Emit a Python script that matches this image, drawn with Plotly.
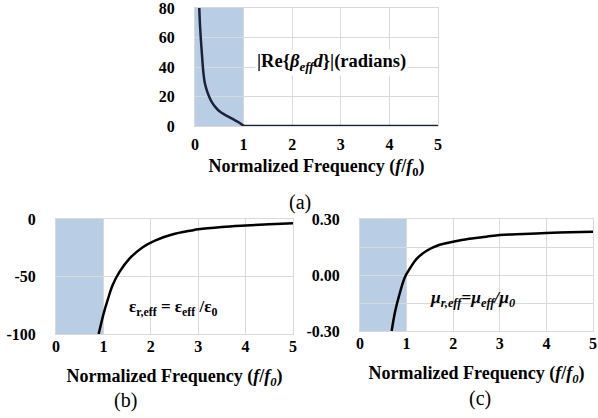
import plotly.graph_objects as go

# ---------------- data ----------------
# (a) |Re{beta_eff d}| (radians)
freq_a = [0.088, 0.10, 0.12, 0.136, 0.155, 0.17, 0.20, 0.24, 0.29, 0.34, 0.42, 0.51,
          0.61, 0.71, 0.80, 0.88, 0.95, 1.00, 1.5, 2.0, 3.0, 4.0, 5.0]
beta_a = [80, 70, 59, 51.7, 43, 37, 29.5, 24.5, 20, 16.5, 12.8, 9.8,
          7.7, 5.9, 4.3, 2.9, 1.4, 0.2, 0, 0, 0, 0, 0]

# (b) relative effective permittivity
freq_b = [0.90, 1.0, 1.1, 1.2, 1.34, 1.55, 1.83, 2.1, 2.45, 2.86, 3.0, 3.5, 4.0, 4.5, 5.0]
eps_b = [-100, -83, -69, -57, -46, -34.5, -24.5, -18.5, -13.5, -10, -9, -7, -5.7, -4.6, -3.7]

# (c) relative effective permeability
freq_c = [0.68, 0.75, 0.84, 0.96, 1.07, 1.21, 1.43, 1.71, 2.0, 2.29, 2.71, 3.0, 3.5, 4.0, 4.5, 5.0]
mu_c = [-0.30, -0.20, -0.11, -0.013, 0.035, 0.085, 0.13, 0.162, 0.178, 0.192, 0.205, 0.214,
        0.220, 0.225, 0.229, 0.232]

shaded_band = [0, 1]          # shaded frequency band (f/f0)
x_ticks = [0, 1, 2, 3, 4, 5]
y_ticks_a = [0, 20, 40, 60, 80]
y_ticks_b = [-100, -50, 0]
y_ticktext_b = ["-100", "-50", "0"]
y_ticks_c = [-0.30, -0.15, 0.0, 0.15, 0.30]
y_ticktext_c = ["-0.30", "", "0.00", "", "0.30"]

# ---------------- styles ----------------
FONT = "Liberation Serif, Times New Roman, serif"
GRID = "#d9d9d9"
SHADE = "#b9cde5"
tickfont = dict(family=FONT, size=16, color="black", weight="bold")
titlefont = dict(family=FONT, size=18, color="black", weight="bold")
xtitle_a = "<b>Normalized Frequency (<i>f</i>/<i>f</i><sub>0</sub>)</b>"
xtitle_bc = "<b>Normalized Frequency (<i>f</i>/<i>f<sub>0</sub></i>)</b>"

fig = go.Figure()
fig.add_trace(go.Scatter(x=freq_a, y=beta_a, mode="lines", xaxis="x", yaxis="y",
                         line=dict(color="#1a2238", width=2.5, shape="spline", smoothing=0.6),
                         showlegend=False))
fig.add_trace(go.Scatter(x=freq_b, y=eps_b, mode="lines", xaxis="x2", yaxis="y2",
                         line=dict(color="black", width=2.5, shape="spline"), showlegend=False))
fig.add_trace(go.Scatter(x=freq_c, y=mu_c, mode="lines", xaxis="x3", yaxis="y3",
                         line=dict(color="black", width=2.5, shape="spline"), showlegend=False))


def xax(domain, anchor, title, standoff, label_standoff):
    return dict(domain=domain, anchor=anchor, range=[0, 5], tickvals=x_ticks,
                showgrid=True, gridcolor=GRID, gridwidth=1, zeroline=False,
                showline=True, linecolor=GRID, mirror=True, ticks="",
                tickfont=tickfont, ticklabelstandoff=label_standoff, automargin=False,
                ticklabeloverflow="allow",
                title=dict(text=title, font=titlefont, standoff=standoff))


def yax(domain, anchor, rng, tickvals, ticktext=None):
    d = dict(domain=domain, anchor=anchor, range=rng, tickvals=tickvals,
             showgrid=True, gridcolor=GRID, gridwidth=1, zeroline=False,
             showline=True, linecolor=GRID, mirror=True, ticks="",
             tickfont=tickfont, ticklabelstandoff=16, automargin=False,
             ticklabeloverflow="allow")
    if ticktext is not None:
        d["ticktext"] = ticktext
    return d


fig.update_layout(
    width=598, height=418, margin=dict(l=0, r=0, t=0, b=0),
    paper_bgcolor="white", plot_bgcolor="white",
    font=dict(family=FONT),
    xaxis=xax([195 / 598, 438 / 598], "y", xtitle_a, 7, 4),
    yaxis=yax([1 - 126 / 418, 1 - 8 / 418], "x", [0, 80], y_ticks_a),
    xaxis2=xax([56 / 598, 293 / 598], "y2", xtitle_bc, 15, -2),
    yaxis2=yax([1 - 334 / 418, 1 - 219 / 418], "x2", [-100, 0], y_ticks_b, y_ticktext_b),
    xaxis3=xax([360 / 598, 593 / 598], "y3", xtitle_bc, 15, -2),
    yaxis3=yax([1 - 331 / 418, 1 - 219 / 418], "x3", [-0.30, 0.30], y_ticks_c, y_ticktext_c),
)

for xr, yr in [("x", "y domain"), ("x2", "y2 domain"), ("x3", "y3 domain")]:
    fig.add_shape(type="rect", xref=xr, yref=yr, x0=shaded_band[0], x1=shaded_band[1],
                  y0=0, y1=1, fillcolor=SHADE, line=dict(width=0), layer="below")

fig.add_annotation(x=2.8, y=43, xref="x", yref="y", showarrow=False,
                   text="<b>|Re{<i>β</i><sub><i>eff</i></sub><i>d</i>}|(radians)</b>",
                   font=dict(family=FONT, size=18.5, color="black"), bgcolor="white")
fig.add_annotation(x=2.47, y=-77, xref="x2", yref="y2", showarrow=False,
                   text="<b>ε<sub>r,eff</sub> = ε<sub>eff</sub> /ε<sub>0</sub></b>",
                   font=dict(family=FONT, size=17, color="black"))
fig.add_annotation(x=2.42, y=-0.125, xref="x3", yref="y3", showarrow=False,
                   text="<b><i>μ<sub>r,eff</sub>=μ<sub>eff</sub>/μ<sub>0</sub></i></b>",
                   font=dict(family=FONT, size=17.5, color="black"))

lab_font = dict(family=FONT, size=20, color="black")
for txt, px, py in [("(a)", 300, 202), ("(b)", 125, 400), ("(c)", 480, 398)]:
    fig.add_annotation(x=px / 598, y=1 - py / 418, xref="paper", yref="paper",
                       xanchor="center", yanchor="middle",
                       showarrow=False, text=txt, font=lab_font)

fig.write_html("out.html")
